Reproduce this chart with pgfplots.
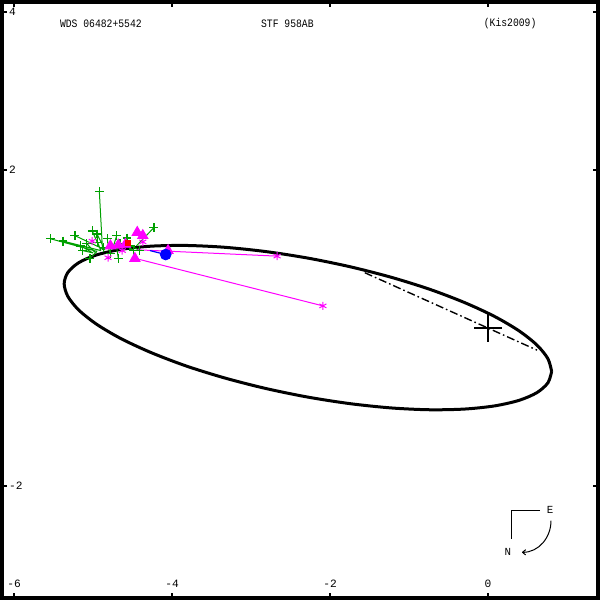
\documentclass[border=0pt]{standalone}
\usepackage{fontspec}
\setmainfont{Liberation Mono}
\usepackage{pgfplots}
\pgfplotsset{compat=1.18}
\usetikzlibrary{arrows.meta}

\definecolor{obsgreen}{RGB}{0,160,0}
\definecolor{obsmag}{RGB}{255,0,255}

\newcommand{\hdr}[1]{\scalebox{0.9}[1.05]{#1}}

\begin{document}
\begin{tikzpicture}
\begin{axis}[
  width=298pt, height=298pt, scale only axis,
  xmin=-6.152, xmax=1.392,
  ymin=-3.418, ymax=4.127,
  axis line style={line width=2pt},
  tick align=inside,
  major tick length=2.5pt,
  tick style={black, line width=0.6pt},
  xtick={-6,-4,-2,0},
  xticklabels={-6,-4,-2,0},
  ytick={-2,2,4},
  yticklabels={-2,2,4},
  ticklabel style={font=\fontsize{5.6}{6}\selectfont},
  xticklabel style={anchor=south, yshift=1.5pt},
  yticklabel style={anchor=west, xshift=0pt},
  unbounded coords=jump,
]
% apparent orbit
\addplot [black, line width=1.5pt, smooth] coordinates {
(0.805,-0.550) (0.758,-0.389) (0.619,-0.216) (0.392,-0.036) (0.083,0.146)
(-0.297,0.322) (-0.738,0.490) (-1.225,0.642) (-1.744,0.775) (-2.280,0.885)
(-2.816,0.968) (-3.335,1.022) (-3.823,1.045) (-4.263,1.036) (-4.643,0.996)
(-4.952,0.926) (-5.179,0.828) (-5.318,0.704) (-5.365,0.560) (-5.318,0.399)
(-5.179,0.226) (-4.952,0.046) (-4.643,-0.136) (-4.263,-0.312) (-3.823,-0.480)
(-3.335,-0.632) (-2.816,-0.765) (-2.280,-0.875) (-1.744,-0.958) (-1.225,-1.012)
(-0.738,-1.035) (-0.297,-1.026) (0.083,-0.986) (0.392,-0.916) (0.619,-0.818)
(0.758,-0.694) (0.805,-0.550)
};
% line of nodes
\addplot [black, line width=0.7pt, dash pattern=on 4pt off 1.5pt on 0.8pt off 1.5pt] coordinates {
(-1.56,0.70) (0.62,-0.28)
};
% primary
\addplot [black, line width=1.3pt, mark=+, mark size=7pt, only marks] coordinates {(0,0)};
% green residuals
\addplot [obsgreen, line width=0.5pt] coordinates {
(-4.92,1.73) (-4.88,0.99) (nan,nan)
(-5.54,1.13) (-4.95,0.97) (nan,nan)
(-5.38,1.10) (-4.90,0.98) (nan,nan)
(-5.23,1.17) (-4.85,0.99) (nan,nan)
(-5.01,1.23) (-4.90,0.98) (nan,nan)
(-4.95,1.19) (-4.85,0.99) (nan,nan)
(-4.23,1.27) (-4.45,1.04) (nan,nan)
(-5.13,0.98) (-5.00,0.95) (nan,nan)
(-5.04,0.88) (-4.95,0.97) (nan,nan)
(-4.82,1.13) (-4.80,1.00) (nan,nan)
(-4.70,1.17) (-4.75,1.01) (nan,nan)
(-4.57,1.14) (-4.65,1.02) (nan,nan)
(-4.68,0.88) (-4.70,1.02) (nan,nan)
(-4.49,0.98) (-4.55,1.03) (nan,nan)
(-4.41,0.98) (-4.50,1.03) (nan,nan)
(-4.87,1.02) (-4.85,0.99) (nan,nan)
(-4.94,1.08) (-4.90,0.98) (nan,nan)
(-4.78,0.94) (-4.80,1.00) (nan,nan)
(-5.08,1.07) (-4.98,0.96) (nan,nan)
(-4.66,1.07) (-4.70,1.02) (nan,nan)
(-4.53,1.04) (-4.60,1.03) (nan,nan)
(-5.16,1.04) (-5.00,0.95)
};
\addplot [obsgreen, only marks, mark=+, mark size=2.2pt, line width=0.7pt] coordinates {
(-4.92,1.73) (-5.54,1.13) (-5.38,1.10) (-5.23,1.17) (-5.01,1.23) (-4.95,1.19)
(-4.23,1.27) (-5.13,0.98) (-5.04,0.88) (-4.82,1.13) (-4.70,1.17) (-4.57,1.14)
(-4.68,0.88) (-4.49,0.98) (-4.41,0.98) (-4.87,1.02) (-4.94,1.08) (-4.78,0.94)
(-5.08,1.07) (-4.66,1.07) (-4.53,1.04) (-5.16,1.04)
};
% magenta residuals
\addplot [obsmag, line width=0.5pt] coordinates {
(-2.67,0.91) (-4.44,0.99) (nan,nan)
(-2.09,0.28) (-4.50,0.89)
};
\addplot [obsmag, only marks, mark=asterisk, mark size=2pt, line width=0.5pt] coordinates {
(-2.67,0.91) (-2.09,0.28) (-5.01,1.10) (-4.81,0.89) (-4.63,0.98) (-4.37,1.09)
};
\addplot [obsmag, only marks, mark=triangle*, mark size=3pt] coordinates {
(-4.47,0.88) (-4.44,1.21) (-4.37,1.17) (-4.05,0.98) (-4.78,1.04) (-4.68,1.05) (-4.59,1.06)
};
% red and blue
\addplot [red, only marks, mark=square*, mark size=1.3pt] coordinates {(-4.56,1.08)};
\addplot [blue, line width=0.6pt] coordinates {(-4.08,0.93) (-4.28,0.98)};
\addplot [blue, only marks, mark=*, mark size=2.7pt] coordinates {(-4.08,0.93)};

% header
\node [font=\fontsize{5.4}{6}\selectfont] at (axis cs:-4.90,3.85) {\hdr{WDS 06482+5542}};
\node [font=\fontsize{5.4}{6}\selectfont] at (axis cs:-2.54,3.85) {\hdr{STF 958AB}};
\node [font=\fontsize{5.4}{6}\selectfont] at (axis cs:0.28,3.85) {\hdr{(Kis2009)}};

% compass
\draw [black, line width=0.5pt] (axis cs:0.658,-2.31) -- (axis cs:0.291,-2.31) -- (axis cs:0.291,-2.667);
\node [font=\fontsize{5.4}{6}\selectfont] at (axis cs:0.785,-2.30) {E};
\node [font=\fontsize{5.4}{6}\selectfont] at (axis cs:0.25,-2.84) {N};
\draw [black, line width=0.5pt, -{To[length=2pt,width=3pt]}] (axis cs:0.797,-2.44) to[out=-90,in=0] (axis cs:0.43,-2.84);
\end{axis}
\end{tikzpicture}
\end{document}
